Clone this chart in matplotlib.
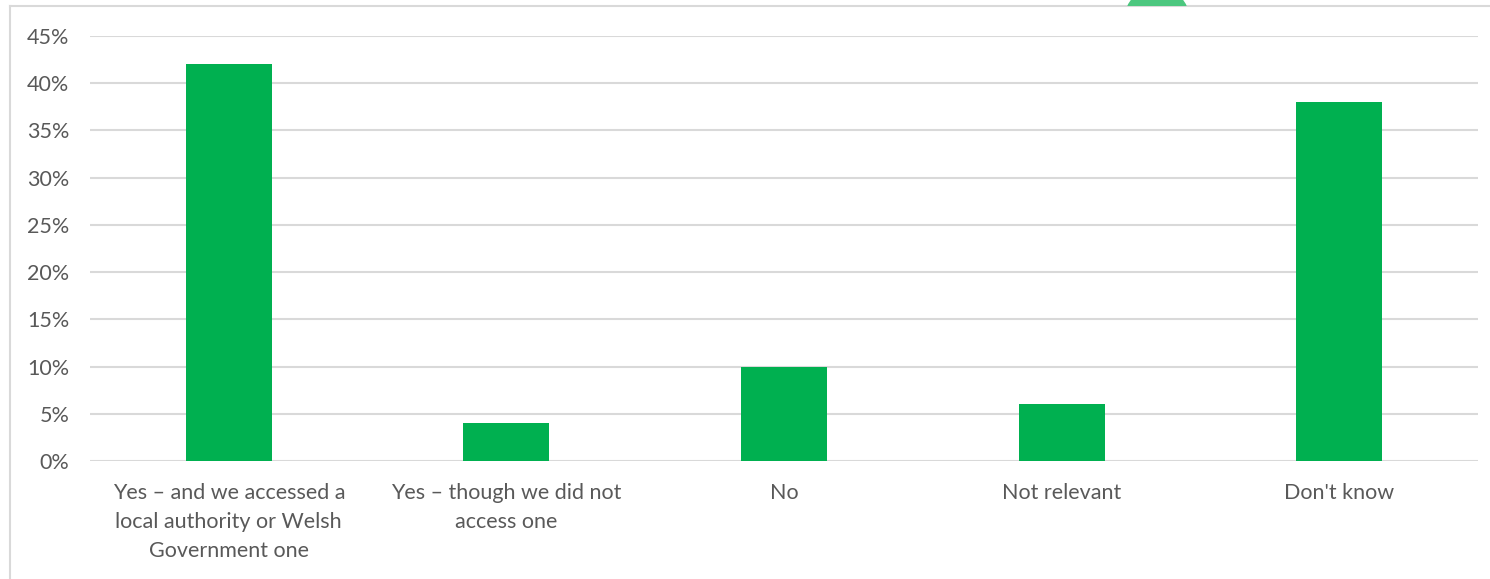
import matplotlib
matplotlib.use("Agg")
import matplotlib.pyplot as plt
from matplotlib.patches import Circle, Rectangle
from matplotlib.lines import Line2D

categories = [
    "Yes \u2013 and we accessed a\nlocal authority or Welsh\nGovernment one",
    "Yes \u2013 though we did not\naccess one",
    "No",
    "Not relevant",
    "Don't know",
]
values = [0.42, 0.04, 0.10, 0.06, 0.38]
yticks = [0, 0.05, 0.10, 0.15, 0.20, 0.25, 0.30, 0.35, 0.40, 0.45]
ytick_labels = ["0%", "5%", "10%", "15%", "20%", "25%", "30%", "35%", "40%", "45%"]

plt.rcParams['font.family'] = ['Lato', 'DejaVu Sans']
text_color = "#595959"
grid_color = "#D9D9D9"
bar_color = "#00B050"

W, H = 1490, 579
fig = plt.figure(figsize=(W / 100, H / 100), dpi=100)
ax = fig.add_axes([90/W, (H-461)/H, (1478-90)/W, (461-36)/H])

x = list(range(len(categories)))
ax.bar(x, values, width=0.31, color=bar_color, zorder=3)
ax.set_xlim(-0.5, len(categories) - 0.5)
ax.set_ylim(0, 0.45)
ax.set_yticks(yticks)
ax.set_yticklabels(ytick_labels)
ax.set_xticks(x)
ax.set_xticklabels(categories, linespacing=1.57)
ax.tick_params(axis='both', length=0, labelsize=15.5, colors=text_color)
ax.tick_params(axis='x', pad=16)
ax.tick_params(axis='y', pad=15)
ax.yaxis.grid(True, color=grid_color, linewidth=1.5, zorder=0)
for s in ax.spines.values():
    s.set_visible(False)

# outer chart frame (left and top edges visible)
fig.add_artist(Line2D([10/W, 10/W], [0, 1 - 6/H], transform=fig.transFigure, color=grid_color, linewidth=1.5))
fig.add_artist(Line2D([10/W, 1], [1 - 6/H, 1 - 6/H], transform=fig.transFigure, color=grid_color, linewidth=1.5))

# partially visible green badge at the top edge
clip = Rectangle((0, H - 6), W, 6, transform=None, visible=False)
fig.add_artist(clip)
badge = Circle((1157, H - 6 - 13.5), 32, transform=None, color="#4CC77F", zorder=5)
fig.add_artist(badge)
badge.set_clip_path(clip)

fig.savefig("out.png", dpi=100, facecolor="white")
